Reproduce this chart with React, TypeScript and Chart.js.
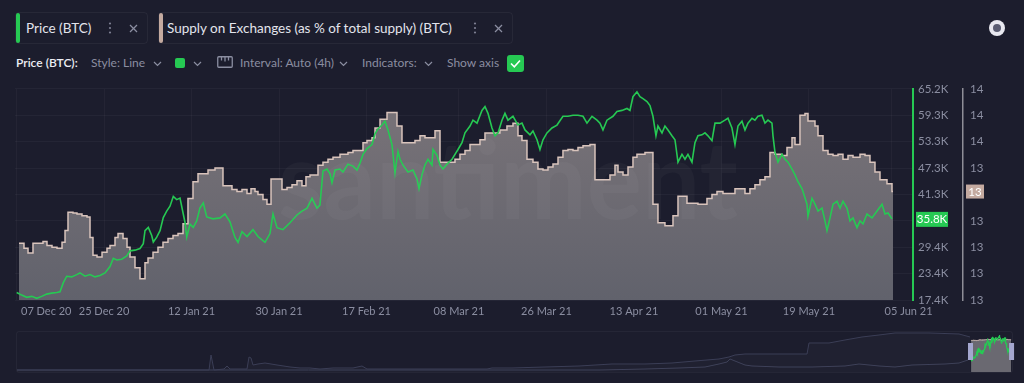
import React, { useEffect, useRef } from 'react';
import { Chart, registerables } from 'chart.js';
Chart.register(...registerables);

const FONT = 'Lato, "Open Sans", sans-serif';
const BG = '#1c1d2d';
const GREEN = '#26c953';
const SUPPLY_LINE = '#d9c4bc';
const SUPPLY_CHIP = '#c4aaa0';
const AXIS_TEXT = '#8b8ea1';
const NAV_LINE = '#3b3e56';

// ---- x axis (days since 07 Dec 2020) ----
const xTickDays = [0, 18, 36, 54, 72, 91, 109, 127, 145, 163, 180];
const xTickLabels = ['07 Dec 20', '25 Dec 20', '12 Jan 21', '30 Jan 21', '17 Feb 21', '08 Mar 21', '26 Mar 21', '13 Apr 21', '01 May 21', '19 May 21', '05 Jun 21'];

// ---- y axes ----
const priceTickValues = [17400, 23375, 29350, 35325, 41300, 47275, 53250, 59225, 65200];
const priceTickLabels = ['17.4K', '23.4K', '29.4K', '35.3K', '41.3K', '47.3K', '53.3K', '59.3K', '65.2K'];
const supplyTickValues = [12.9, 13.0, 13.1, 13.2, 13.3, 13.4, 13.5, 13.6, 13.7];
const supplyTickLabels = ['13', '13', '13', '13', '13', '13', '14', '14', '14'];

// ---- Price (BTC), USD ----
const priceDays = [0.04,1.07,2.10,3.13,4.15,5.18,6.21,7.24,8.27,8.95,
9.63,10.33,11.35,12.38,13.06,14.09,15.12,16.15,17.17,18.20,
19.23,19.91,20.61,21.64,22.67,23.34,24.37,25.40,26.08,26.43,
27.11,27.81,28.14,28.84,29.52,30.19,30.89,31.57,32.25,32.95,
33.63,34.31,34.66,35.01,35.69,36.36,37.06,37.74,38.42,39.12,
40.42,41.86,42.88,43.91,44.94,45.56,46.38,47.41,48.64,49.67,
51.11,52.14,52.76,53.58,54.82,56.25,57.69,58.72,59.75,60.78,
61.80,62.42,63.04,63.86,64.48,64.89,65.51,66.54,67.15,68.18,
69.21,70.03,70.65,71.27,72.09,73.12,73.74,74.35,75.18,75.79,
76.41,77.23,77.85,78.47,78.88,79.50,80.52,81.55,82.37,82.79,
83.40,84.02,84.64,85.46,85.67,86.49,87.11,87.73,88.55,89.58,
90.19,90.81,91.63,92.25,93.28,93.89,94.72,95.74,96.36,96.98,
97.80,98.42,99.03,99.86,100.47,101.09,102.12,103.15,103.97,104.59,
105.62,106.23,107.06,107.67,108.29,109.11,110.14,111.17,112.40,113.43,
114.46,115.49,116.52,117.34,118.37,119.40,120.01,120.63,121.45,122.69,
123.51,124.54,125.57,126.18,126.80,127.62,128.24,128.86,129.68,130.30,
130.91,131.53,131.94,132.77,133.38,134.00,134.82,135.44,136.06,136.88,
137.50,138.11,138.94,139.55,140.17,140.99,141.61,142.23,143.05,143.67,
144.70,145.72,146.34,147.16,147.78,148.40,149.22,149.84,150.45,151.28,
151.89,152.51,153.33,153.95,154.57,155.39,155.60,156.01,156.63,157.45,
158.07,158.69,159.51,160.13,160.74,161.56,161.77,162.59,162.80,163.62,
164.24,164.86,165.68,166.30,166.71,167.33,167.95,168.77,169.39,170.00,
170.83,171.44,172.06,172.88,173.50,174.12,174.94,175.97,177.00,178.03,
178.64,179.26,180.08];
const priceValues = [19100,18510,18000,18220,17780,18220,18730,18950,19100,19240,
21320,22780,22640,23150,23530,22780,23150,22640,22930,23530,
24990,26850,26470,26630,27360,28530,28690,29060,30170,33110,
33840,32000,30520,31630,33110,36050,37540,38640,40860,40130,
40480,36810,34950,31630,34590,33840,35320,38270,39370,36210,
35770,35990,36870,35100,31560,30460,32890,31780,33330,31780,
30460,32450,36870,33780,33330,34880,36650,37540,38200,40410,
38200,38870,46610,47050,45950,43960,46830,47050,46390,48160,
47720,46830,48380,50370,51700,52590,55020,56130,57010,57900,
55910,52590,46170,51040,49270,47940,46390,46830,44840,42630,
45730,47940,49270,47940,51480,50150,47940,47050,48160,49270,
50370,51480,53030,55240,56790,58120,57450,60330,61220,59670,
56350,54580,55240,58120,59670,58120,59000,57010,57450,55910,
54800,55680,53690,51480,53690,55240,56350,57010,59000,59000,
59220,59220,59000,57450,59000,58120,57450,55910,58120,59000,
60110,60330,60770,60330,63430,64540,63430,62990,62320,61440,
59000,54580,56790,55240,56790,55910,54580,53690,48600,50370,
49270,50370,48600,53030,54580,54800,55240,54580,53470,57450,
57450,58120,58560,56350,52590,56790,57900,55910,57450,58560,
58120,59000,59220,57450,58120,57450,54580,50820,48600,50370,
49270,48600,47050,45730,44180,42630,41960,39090,36430,40410,
39090,37540,38200,35320,33110,35990,39090,39750,38200,39750,
38200,35320,35990,33780,35320,34660,36870,35990,37540,39090,
36870,37100,35770];

// ---- Supply on Exchanges (as % of total supply), daily steps ----
const supplyDays = [0.51,1.54,2.37,3.39,5.45,6.27,7.30,8.33,9.36,9.98,
10.59,11.62,12.44,13.47,14.50,15.12,15.73,16.56,17.59,18.61,
19.23,20.26,20.88,21.91,22.73,23.35,24.37,25.40,26.43,27.05,
28.08,29.10,30.13,31.16,32.19,33.22,34.25,35.27,36.30,37.33,
39.39,40.83,42.47,44.32,45.35,46.38,47.41,48.23,49.06,49.67,
50.70,51.52,52.35,54.61,55.64,56.67,57.69,58.72,59.54,60.37,
62.01,63.04,64.07,65.10,66.54,68.18,69.21,71.27,72.09,73.12,
73.74,74.77,76.21,78.26,79.29,81.96,82.99,84.02,86.08,87.11,
90.19,91.22,92.25,93.28,95.33,96.36,99.44,100.88,102.12,103.15,
103.97,105.00,106.23,107.26,108.29,109.32,110.35,111.38,112.40,113.43,
114.46,115.49,116.52,117.96,118.99,122.07,123.10,123.72,124.75,125.78,
126.80,127.62,129.27,130.91,131.94,133.38,135.03,136.06,137.91,140.17,
142.02,143.05,144.08,145.31,147.78,149.84,150.86,151.89,152.92,153.95,
154.98,156.01,157.45,158.48,159.51,160.13,161.15,162.18,162.80,164.24,
164.86,165.89,166.92,167.95,168.98,170.00,171.03,172.06,173.50,174.53,
175.55,176.58,177.61,179.05,180.08,180.29];
const supplyValues = [13.115,13.096,13.078,13.115,13.122,13.107,13.100,13.096,13.119,13.163,
13.233,13.230,13.226,13.219,13.215,13.137,13.070,13.063,13.081,13.096,
13.107,13.137,13.152,13.133,13.100,13.063,13.022,12.981,13.041,13.059,
13.081,13.100,13.119,13.133,13.144,13.152,13.189,13.285,13.348,13.378,
13.393,13.400,13.333,13.319,13.311,13.319,13.304,13.322,13.311,13.300,
13.281,13.263,13.359,13.319,13.326,13.337,13.352,13.333,13.367,13.374,
13.411,13.422,13.433,13.441,13.452,13.459,13.467,13.496,13.504,13.515,
13.552,13.585,13.611,13.559,13.496,13.504,13.522,13.515,13.541,13.422,
13.433,13.452,13.467,13.489,13.507,13.533,13.544,13.559,13.570,13.522,
13.504,13.433,13.422,13.396,13.393,13.404,13.415,13.441,13.467,13.470,
13.467,13.478,13.485,13.489,13.356,13.374,13.411,13.385,13.374,13.404,
13.441,13.452,13.459,13.263,13.193,13.181,13.219,13.293,13.267,13.263,
13.285,13.300,13.311,13.304,13.322,13.304,13.322,13.337,13.356,13.367,
13.459,13.452,13.448,13.478,13.515,13.489,13.600,13.607,13.578,13.559,
13.522,13.467,13.452,13.448,13.452,13.433,13.448,13.441,13.452,13.448,
13.422,13.385,13.356,13.341,13.311,13.311];

// ---- Navigator: full history (days relative to 07 Dec 2020) ----
const navSupplyDays = [-4293,-3429,-3420,-3406.5,-3361.5,-3348,-3334.5,-3258,-3249,-3240,-3231,-3208.5,-3177,-3123,-3064.5,-3019.5,-2974.5,-2929.5,-2871,-2781,-2740.5,-2718,-2569.5,-2421,-2178,-2155.5,-2065.5,-1917,-1764,-1615.5,-1467,-1345.5,-1242,-1134,-1089,-1062,-1017,-864,-738,-729,-639,-567,-490.5,-414,-342,-189,-54,-4.5];
const navSupplyValues = [0,0,6.65,0,0.44,1.77,0.44,0.44,5.76,5.32,2.22,2.66,3.10,2.22,1.33,0.89,0.89,0.44,0.89,0.89,1.77,0.44,0.44,0.44,0.44,0.89,0.89,1.33,1.77,2.66,2.66,3.10,3.99,4.88,5.76,6.65,7.09,7.09,7.09,11.97,11.97,13.30,14.63,15.51,16.40,16.40,15.96,14.63];
const navPriceDays = [-4293,-1669.5,-1467,-1314,-1197,-1134,-1098,-1084.5,-1062,-1017,-985.5,-864,-715.5,-567,-504,-414,-342,-265.5,-117,-54,-13.5];
const navPriceValues = [0,0,1840,3680,5520,11050,14730,20260,16570,9210,7370,5520,5520,7370,11050,7370,5520,9210,11050,12890,18420];

function MainChart() {
  const ref = useRef<HTMLCanvasElement>(null);
  useEffect(() => {
    const canvas = ref.current!;
    const priceData = priceDays.map((d, i) => ({ x: d, y: priceValues[i] }));
    const supplyData = supplyDays.map((d, i) => ({ x: d, y: supplyValues[i] }));

    const watermark = {
      id: 'watermark',
      afterDatasetsDraw(chart: any) {
        const { ctx, chartArea: a } = chart;
        ctx.save();
        ctx.font = `bold 110px ${FONT}`;
        ctx.fillStyle = 'rgba(255,255,255,0.03)';
        ctx.textBaseline = 'alphabetic';
        const t = 'santiment';
        const w = ctx.measureText(t).width;
        ctx.translate(a.left + 263, a.top + 130);
        ctx.scale(460 / w, 1);
        ctx.fillText(t, 0, 0);
        ctx.restore();
      },
    };

    const xLabels = {
      id: 'xLabels',
      afterDraw(chart: any) {
        const { ctx, chartArea: a } = chart;
        const x = chart.scales.x;
        ctx.save();
        ctx.font = `11px ${FONT}`;
        ctx.fillStyle = AXIS_TEXT;
        ctx.textBaseline = 'middle';
        ctx.textAlign = 'left';
        const y = a.bottom + 11;
        xTickDays.forEach((d, i) => {
          const label = xTickLabels[i];
          const w = ctx.measureText(label).width;
          const px = x.getPixelForValue(d);
          let left = px - w / 2;
          if (i === 0) left = Math.max(left, a.left + 6);
          if (i === xTickDays.length - 1) left = px - 7;
          ctx.fillText(label, left, y);
        });
        ctx.restore();
      },
    };

    const badges = {
      id: 'badges',
      afterDraw(chart: any) {
        const { ctx } = chart;
        const yP = chart.scales.yPrice;
        const yS = chart.scales.ySupply;
        const lastP = priceValues[priceValues.length - 1];
        const lastS = supplyValues[supplyValues.length - 1];
        ctx.save();
        ctx.font = `11.5px ${FONT}`;
        ctx.textBaseline = 'middle';
        ctx.textAlign = 'center';
        const py = yP.getPixelForValue(lastP);
        ctx.fillStyle = GREEN;
        ctx.fillRect(yP.left + 3, py - 7, 32, 15);
        ctx.fillStyle = '#ffffff';
        ctx.fillText((lastP / 1000).toFixed(1) + 'K', yP.left + 19, py + 0.5);
        const sy = yS.getPixelForValue(lastS);
        ctx.fillStyle = SUPPLY_CHIP;
        ctx.fillRect(yS.left + 3, sy - 7, 18, 14);
        ctx.fillStyle = '#ffffff';
        ctx.fillText(String(Math.round(lastS)), yS.left + 12, sy + 0.5);
        ctx.restore();
      },
    };

    const chart = new Chart(canvas, {
      type: 'line',
      data: {
        datasets: [
          {
            label: 'Price (BTC)',
            data: priceData,
            yAxisID: 'yPrice',
            borderColor: GREEN,
            borderWidth: 1.6,
            pointRadius: 0,
            tension: 0,
            fill: false,
            order: 0,
          },
          {
            label: 'Supply on Exchanges (as % of total supply) (BTC)',
            data: supplyData,
            yAxisID: 'ySupply',
            borderColor: SUPPLY_LINE,
            borderWidth: 1.5,
            stepped: true,
            pointRadius: 0,
            fill: 'start',
            backgroundColor: (c: any) => {
              const a = c.chart.chartArea;
              if (!a) return '#6e6b74';
              const g = c.chart.ctx.createLinearGradient(0, a.top, 0, a.bottom);
              g.addColorStop(0, '#7a7479');
              g.addColorStop(1, '#61626c');
              return g;
            },
            order: 1,
          },
        ] as any,
      },
      options: {
        animation: false,
        responsive: false,
        maintainAspectRatio: false,
        layout: { padding: { left: 15, top: 10, right: 0, bottom: 0 } },
        plugins: { legend: { display: false }, tooltip: { enabled: false } },
        scales: {
          x: {
            type: 'linear',
            min: -0.31,
            max: 184.4,
            grid: { color: 'rgba(255,255,255,0.035)', drawTicks: false },
            border: { display: false },
            ticks: { display: false },
            afterBuildTicks: (s: any) => { s.ticks = xTickDays.map((v) => ({ value: v })); },
            afterFit: (s: any) => { s.height = 25; },
          },
          yPrice: {
            type: 'linear',
            position: 'right',
            min: 17400,
            max: 65200,
            afterBuildTicks: (s: any) => { s.ticks = priceTickValues.map((v) => ({ value: v })); },
            ticks: {
              callback: (_v: any, i: number) => priceTickLabels[i],
              color: AXIS_TEXT,
              font: { family: FONT, size: 11.5 },
              padding: 5,
              autoSkip: false,
            },
            grid: { color: 'rgba(255,255,255,0.04)', drawTicks: false },
            border: { color: GREEN, width: 2 },
            afterFit: (s: any) => { s.width = 50; },
          },
          ySupply: {
            type: 'linear',
            position: 'right',
            min: 12.9,
            max: 13.7,
            afterBuildTicks: (s: any) => { s.ticks = supplyTickValues.map((v) => ({ value: v })); },
            ticks: {
              callback: (_v: any, i: number) => supplyTickLabels[i],
              color: AXIS_TEXT,
              font: { family: FONT, size: 11.5 },
              padding: 7,
              autoSkip: false,
            },
            grid: { display: false, drawTicks: false },
            border: { color: '#8e8e97', width: 1.5 },
            afterFit: (s: any) => { s.width = 61; },
          },
        },
      } as any,
      plugins: [watermark, xLabels, badges],
    });
    return () => chart.destroy();
  }, []);
  return (
    <canvas
      ref={ref}
      width={1024}
      height={250}
      style={{ position: 'absolute', left: 0, top: 75, width: 1024, height: 250 }}
    />
  );
}

function Navigator() {
  const ref = useRef<HTMLCanvasElement>(null);
  useEffect(() => {
    const canvas = ref.current!;
    const handles = {
      id: 'handles',
      afterDatasetsDraw(chart: any) {
        const { ctx } = chart;
        const x = chart.scales.x;
        const xl = x.getPixelForValue(0);
        const xr = x.getPixelForValue(supplyDays[supplyDays.length - 1]);
        ctx.save();
        ctx.fillStyle = '#a4a7cf';
        ctx.fillRect(xl - 3, 13, 5, 17);
        ctx.fillRect(xr - 2, 13, 5, 17);
        ctx.restore();
      },
    };
    const chart = new Chart(canvas, {
      type: 'line',
      data: {
        datasets: [
          {
            data: priceDays.map((d, i) => ({ x: d, y: priceValues[i] })),
            yAxisID: 'yP', borderColor: GREEN, borderWidth: 1.2, pointRadius: 0, fill: false, order: 0,
          },
          {
            data: supplyDays.map((d, i) => ({ x: d, y: supplyValues[i] })),
            yAxisID: 'yS', borderColor: SUPPLY_LINE, borderWidth: 1, stepped: true, pointRadius: 0,
            fill: 'start', backgroundColor: '#6a6971', order: 1,
          },
          {
            data: navSupplyDays.map((d, i) => ({ x: d, y: navSupplyValues[i] })),
            yAxisID: 'yS', borderColor: NAV_LINE, borderWidth: 1, pointRadius: 0,
            fill: 'start', backgroundColor: 'rgba(255,255,255,0.02)', order: 2,
          },
          {
            data: navPriceDays.map((d, i) => ({ x: d, y: navPriceValues[i] })),
            yAxisID: 'yP', borderColor: NAV_LINE, borderWidth: 1, pointRadius: 0, fill: false, order: 3,
          },
        ] as any,
      },
      options: {
        animation: false,
        responsive: false,
        maintainAspectRatio: false,
        layout: { padding: { left: 17, right: 12, top: 2, bottom: 3 } },
        plugins: { legend: { display: false }, tooltip: { enabled: false } },
        scales: {
          x: { type: 'linear', display: false, min: -4293, max: 184.5 },
          yS: { type: 'linear', display: false, min: -0.887, max: 16.84 },
          yP: { type: 'linear', display: false, min: -3680, max: 69980 },
        },
      } as any,
      plugins: [handles],
    });
    return () => chart.destroy();
  }, []);
  return (
    <canvas
      ref={ref}
      width={1024}
      height={45}
      style={{ position: 'absolute', left: 0, top: 330, width: 1024, height: 45 }}
    />
  );
}

const Chevron = ({ x, y }: { x: number; y: number }) => (
  <svg width="9" height="6" style={{ position: 'absolute', left: x, top: y }}>
    <polyline points="1,1 4.5,4.5 8,1" stroke={AXIS_TEXT} strokeWidth="1.2" fill="none" />
  </svg>
);

const Dots = ({ x, y }: { x: number; y: number }) => (
  <svg width="4" height="12" style={{ position: 'absolute', left: x, top: y }}>
    <circle cx="2" cy="1.5" r="1.1" fill="#7d7f92" />
    <circle cx="2" cy="6" r="1.1" fill="#7d7f92" />
    <circle cx="2" cy="10.5" r="1.1" fill="#7d7f92" />
  </svg>
);

const Cross = ({ x, y }: { x: number; y: number }) => (
  <svg width="9" height="9" style={{ position: 'absolute', left: x, top: y }}>
    <line x1="1" y1="1" x2="8" y2="8" stroke="#8b8ea1" strokeWidth="1.2" />
    <line x1="8" y1="1" x2="1" y2="8" stroke="#8b8ea1" strokeWidth="1.2" />
  </svg>
);

const txt = (left: number, top: number, size: number, color: string, weight = 400): React.CSSProperties => ({
  position: 'absolute', left, top, fontSize: size, color, fontWeight: weight, lineHeight: '16px', whiteSpace: 'nowrap',
});

export default function App() {
  useEffect(() => {
    document.body.style.background = BG;
  }, []);
  return (
    <div
      style={{
        position: 'fixed', left: 0, top: 0, width: 1024, height: 383, background: BG,
        overflow: 'hidden', fontFamily: FONT,
      }}
    >
      {/* legend chips */}
      <div style={{ position: 'absolute', left: 15, top: 12, width: 133, height: 32, border: '1px solid rgba(255,255,255,0.05)', borderRadius: 4, boxSizing: 'border-box' }} />
      <div style={{ position: 'absolute', left: 16, top: 13, width: 4, height: 30, borderRadius: 2, background: GREEN }} />
      <div style={txt(26, 20, 13.5, '#e3e4ec')}>Price (BTC)</div>
      <Dots x={108} y={22} />
      <Cross x={129} y={24} />

      <div style={{ position: 'absolute', left: 158, top: 12, width: 355, height: 32, border: '1px solid rgba(255,255,255,0.05)', borderRadius: 4, boxSizing: 'border-box' }} />
      <div style={{ position: 'absolute', left: 159, top: 13, width: 4, height: 30, borderRadius: 2, background: SUPPLY_CHIP }} />
      <div style={txt(167, 20, 13.5, '#e3e4ec')}>Supply on Exchanges (as % of total supply) (BTC)</div>
      <Dots x={473} y={22} />
      <Cross x={494} y={24} />

      {/* toolbar row */}
      <div style={txt(16, 55, 12, '#eceef4', 600)}>Price (BTC):</div>
      <div style={txt(91, 55, 12, AXIS_TEXT)}>Style: Line</div>
      <Chevron x={153} y={61} />
      <div style={{ position: 'absolute', left: 175, top: 58, width: 10, height: 10, borderRadius: 2, background: GREEN }} />
      <Chevron x={193} y={61} />
      <svg width="16" height="12" style={{ position: 'absolute', left: 217, top: 56 }}>
        <rect x="0.75" y="0.75" width="14.5" height="10.5" stroke={AXIS_TEXT} strokeWidth="1.3" fill="none" rx="1" />
        <line x1="4.5" y1="1" x2="4.5" y2="4.5" stroke={AXIS_TEXT} strokeWidth="1.3" />
        <line x1="8" y1="1" x2="8" y2="5.5" stroke={AXIS_TEXT} strokeWidth="1.3" />
        <line x1="11.5" y1="1" x2="11.5" y2="4.5" stroke={AXIS_TEXT} strokeWidth="1.3" />
      </svg>
      <div style={txt(240, 55, 12, AXIS_TEXT)}>Interval: Auto (4h)</div>
      <Chevron x={339} y={61} />
      <div style={txt(362, 55, 12, AXIS_TEXT)}>Indicators:</div>
      <Chevron x={424} y={61} />
      <div style={txt(447, 55, 12, AXIS_TEXT)}>Show axis</div>
      <svg width="17" height="17" style={{ position: 'absolute', left: 507, top: 55 }}>
        <rect x="0" y="0" width="17" height="17" rx="3" fill={GREEN} />
        <polyline points="4,8.5 7.3,11.8 13,5.5" stroke="#ffffff" strokeWidth="1.6" fill="none" />
      </svg>

      {/* top-right toggle */}
      <div style={{ position: 'absolute', left: 989, top: 20, width: 16, height: 16, borderRadius: '50%', background: '#e8e8f0' }} />
      <div style={{ position: 'absolute', left: 993, top: 24, width: 8, height: 8, borderRadius: '50%', background: '#5a5c72' }} />

      <MainChart />

      {/* navigator frame */}
      <div style={{ position: 'absolute', left: 16, top: 331, width: 997, height: 42, border: '1px solid rgba(255,255,255,0.045)', borderRadius: 3, boxSizing: 'border-box' }} />
      <Navigator />
    </div>
  );
}
